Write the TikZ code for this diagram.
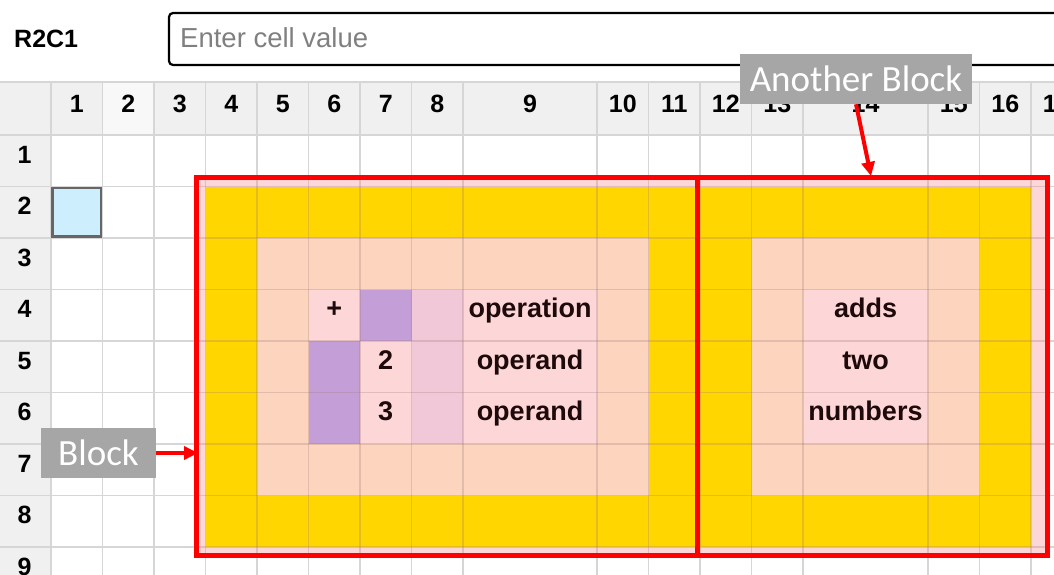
\documentclass[tikz,border=0pt]{standalone}
\usepackage{fontspec}
\setmainfont{Liberation Sans}
\newfontfamily\calibri{Carlito}
\usetikzlibrary{arrows.meta}

\definecolor{hdrbg}{HTML}{F0F0F0}
\definecolor{hdrsel}{HTML}{F8F8F8}
\definecolor{gridgray}{HTML}{D6D6D6}
\definecolor{blockpink}{HTML}{FDD7D8}
\definecolor{gold}{HTML}{FFD600}
\definecolor{peach}{HTML}{FDD5BE}
\definecolor{violet}{HTML}{C49ED7}
\definecolor{lav}{HTML}{F0C8D8}
\definecolor{selblue}{HTML}{CDEEFD}
\definecolor{selborder}{HTML}{666666}
\definecolor{labelgray}{HTML}{A6A6A6}
\definecolor{placeholder}{HTML}{808080}
\definecolor{celltext}{HTML}{1E0A0A}
\definecolor{innergrid}{HTML}{9C7676}

% fill a range of cells: colour, first column, first row, column after, row after
\newcommand\gridcell[5]{\fill[#1] (c#2 |- r#3) rectangle (c#4 |- r#5);}

\tikzset{
  hdr/.style={anchor=base, inner sep=0pt, font=\fontsize{25}{30}\selectfont\bfseries},
  celltxt/.style={anchor=base, inner sep=0pt, text=celltext, font=\fontsize{27}{32}\selectfont\bfseries},
  callout/.style={fill=labelgray, text=white, inner sep=0pt, minimum height=50pt,
    font=\calibri\fontsize{37}{40}\selectfont},
  blockframe/.style={draw=red, line width=5pt},
  pointer/.style={draw=red, line width=4pt, -{Triangle[length=14pt,width=13pt]}},
}

\begin{document}
\begin{tikzpicture}[x=1pt, y=-1pt]
\useasboundingbox (0,0) rectangle (1054,575);
\clip (0,0) rectangle (1054,575);
\fill[white] (0,0) rectangle (1054,575);

% column left edges and row top edges
\foreach \n/\x in {0/0,1/51,2/102.5,3/154,4/205.5,5/257,6/308.5,7/360,8/411.5,9/463,
  10/597,11/648.5,12/700,13/751.5,14/803,15/928,16/979.5,17/1031,18/1082.5}
  \coordinate (c\n) at (\x,0);
\foreach \n/\y in {0/82,1/135,2/186.5,3/238,4/289.5,5/341,6/392.5,7/444,8/495.5,9/547,10/598.5}
  \coordinate (r\n) at (0,\y);

% header backgrounds
\fill[hdrbg] (c0 |- r0) rectangle (1054,135);
\fill[hdrsel] (c2 |- r0) rectangle (c3 |- r1);
\fill[hdrbg] (c0 |- r1) rectangle (51,575);

% sheet grid
\foreach \x in {51,102.5,154,205.5,257,308.5,360,411.5,463,597,648.5,700,751.5,803,928,979.5,1031}
  \draw[gridgray, line width=1.8pt] (\x,82) -- (\x,575);
\foreach \y in {82,135,186.5,238,289.5,341,392.5,444,495.5,547}
  \draw[gridgray, line width=1.8pt] (0,\y) -- (1054,\y);

% block background and coloured cells
\fill[blockpink] (196,177) rectangle (1047.5,555);
\gridcell{gold}{4}{2}{17}{3}
\gridcell{gold}{4}{8}{17}{9}
\gridcell{gold}{4}{3}{5}{8}
\gridcell{gold}{11}{3}{13}{8}
\gridcell{gold}{16}{3}{17}{8}
\gridcell{peach}{5}{3}{11}{8}
\gridcell{peach}{13}{3}{16}{8}
\gridcell{blockpink}{6}{4}{7}{5}
\gridcell{blockpink}{7}{5}{8}{7}
\gridcell{blockpink}{9}{4}{10}{7}
\gridcell{blockpink}{14}{4}{15}{7}
\gridcell{violet}{7}{4}{8}{5}
\gridcell{violet}{6}{5}{7}{7}
\gridcell{lav}{8}{4}{9}{7}

% grid lines showing through the block
\begin{scope}
  \clip (196,177) rectangle (1047.5,555);
  \foreach \x in {205.5,257,308.5,360,411.5,463,597,648.5,700,751.5,803,928,979.5,1031}
    \draw[innergrid, opacity=0.27, line width=1.8pt] (\x,170) -- (\x,560);
  \foreach \y in {186.5,238,289.5,341,392.5,444,495.5,547}
    \draw[innergrid, opacity=0.27, line width=1.8pt] (190,\y) -- (1054,\y);
\end{scope}

% selected cell
\draw[selborder, fill=selblue, line width=2.5pt] (52.3,187.8) rectangle (101.2,236.7);

% block frames
\draw[blockframe] (196,177) rectangle (697.5,555);
\draw[blockframe] (697.5,177) rectangle (1047.5,555);

% column and row headings
\foreach \n/\x in {1/76.75,2/128.25,3/179.75,4/231.25,5/282.75,6/334.25,7/385.75,8/437.25,
  9/530,10/622.75,11/674.25,12/725.75,13/777.25,14/865.5,15/953.75,16/1005.25,17/1056.75}
  \node[hdr] (h\n) at (\x,113) {\n};
\foreach \n in {1,...,9}
  \node[hdr] (v\n) at (24.5,135+51.5*\n-51.5+28) {\n};

% cell contents
\node[celltxt] (op) at (334.25,317.5) {+};
\node[celltxt] (two) at (385.75,369) {2};
\node[celltxt] (three) at (385.75,420.5) {3};
\node[celltxt] (lop) at (530,317.5) {operation};
\node[celltxt] (la) at (530,369) {operand};
\node[celltxt] (lb) at (530,420.5) {operand};
\node[celltxt] (w1) at (865.5,317.5) {adds};
\node[celltxt] (w2) at (865.5,369) {two};
\node[celltxt] (w3) at (865.5,420.5) {numbers};

% formula bar
\node[hdr, anchor=base west] (ref) at (14,48) {R2C1};
\draw[black, line width=2.2pt, rounded corners=4pt] (169,13) rectangle (1070,65);
\node[anchor=base west, inner sep=0pt, text=placeholder,
  font=\fontsize{27.5}{32}\selectfont] (entry) at (180,48) {Enter cell value};

% callouts
\node[callout, minimum width=115pt] (blk) at (98.5,453) {Block};
\node[callout, minimum width=232pt] (ablk) at (856,79) {Another Block};
\coordinate (blkin) at (198,453);
\coordinate (ablkin) at (871,176);
\draw[pointer] (blk.east) -- (blkin);
\draw[pointer] (ablk.south) -- (ablkin);
\end{tikzpicture}
\end{document}
